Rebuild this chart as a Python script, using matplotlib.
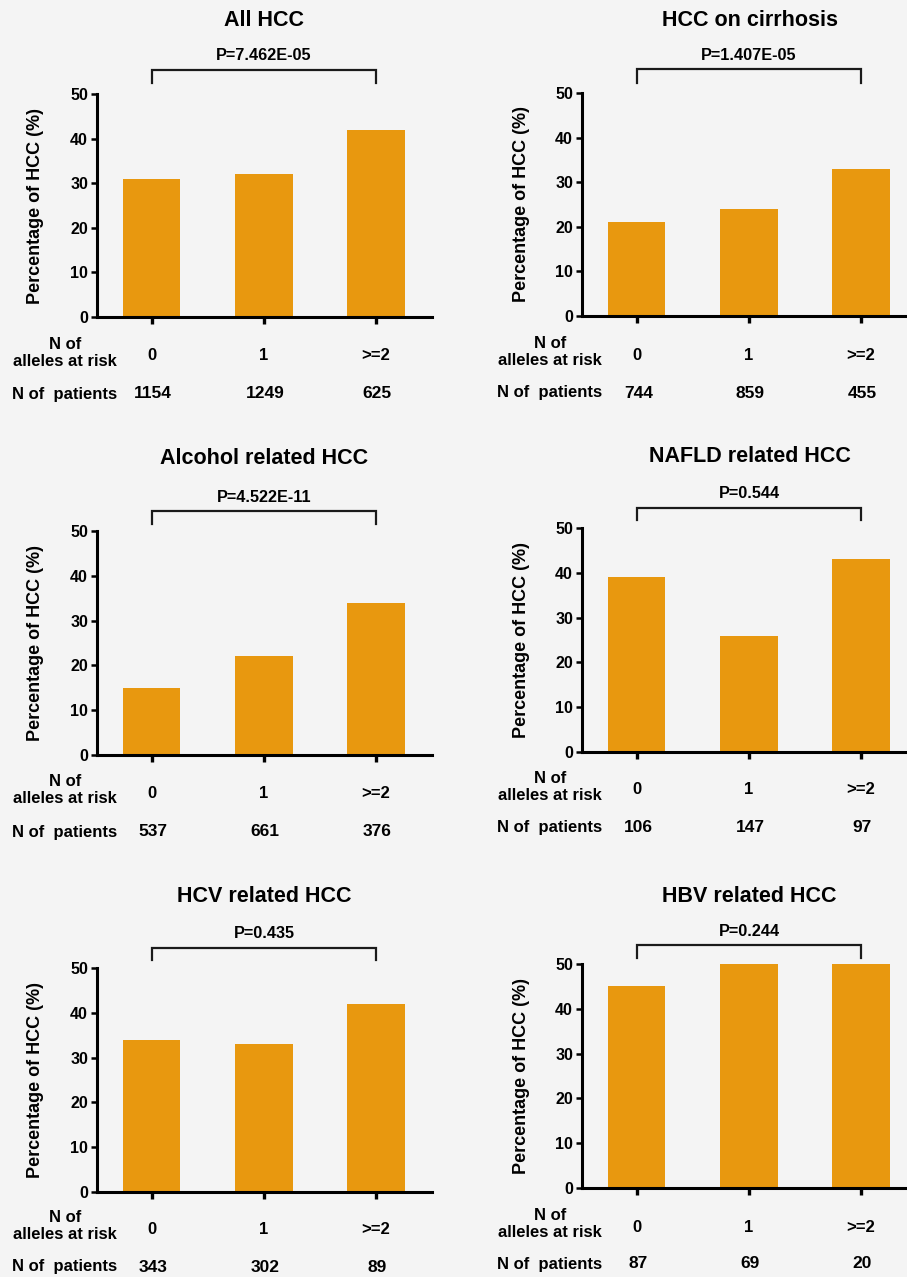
import matplotlib.pyplot as plt

plt.rcParams['font.family'] = ['Liberation Sans', 'DejaVu Sans']
plt.rcParams['font.weight'] = 'bold'

# data
titles = ['All HCC', 'HCC on cirrhosis', 'Alcohol related HCC',
          'NAFLD related HCC', 'HCV related HCC', 'HBV related HCC']
p_values = ['P=7.462E-05', 'P=1.407E-05', 'P=4.522E-11',
            'P=0.544', 'P=0.435', 'P=0.244']
allele_groups = ['0', '1', '>=2']

pct_all = [31, 32, 42]
pct_cirrhosis = [21, 24, 33]
pct_alcohol = [15, 22, 34]
pct_nafld = [39, 26, 43]
pct_hcv = [34, 33, 42]
pct_hbv = [45, 50, 50]

n_all = [1154, 1249, 625]
n_cirrhosis = [744, 859, 455]
n_alcohol = [537, 661, 376]
n_nafld = [106, 147, 97]
n_hcv = [343, 302, 89]
n_hbv = [87, 69, 20]

percents = [pct_all, pct_cirrhosis, pct_alcohol, pct_nafld, pct_hcv, pct_hbv]
patients = [n_all, n_cirrhosis, n_alcohol, n_nafld, n_hcv, n_hbv]

BAR = '#E8980F'
BG = '#F4F4F4'
W, H = 907, 1277
PT = 0.72  # points per pixel at dpi 100

# layout in pixels: axes left, top, bottom
boxes = [(97, 94, 317), (582, 93, 316), (97, 531, 755),
         (582, 528, 752), (97, 968, 1192), (582, 964, 1188)]
# offsets above axes top: title, p text, bracket top, bracket foot
above = [(74, 38, 24, 11), (72, 38, 24, 10), (72, 34, 20, 7),
         (71, 35, 20, 8), (71, 34, 20, 8), (67, 33, 19, 6)]
# offsets below axes bottom: group labels, patient counts
below = [(39, 77), (39, 77), (38, 77), (38, 76), (37, 75), (39, 76)]

xlo, xhi = -0.49, 2.5
ax_w = 335

fig = plt.figure(figsize=(W / 100, H / 100), dpi=100, facecolor=BG)

for k in range(6):
    left, top, bottom = boxes[k]
    ax = fig.add_axes([left / W, 1 - bottom / H, ax_w / W, (bottom - top) / H])
    ax.set_facecolor(BG)

    x = list(range(len(allele_groups)))
    ax.bar(x, percents[k], width=0.51, color=BAR)
    ax.set_xlim(xlo, xhi)
    ax.set_ylim(0, 50)
    ax.set_yticks([0, 10, 20, 30, 40, 50])
    ax.set_xticks(x)

    for s in ['top', 'right']:
        ax.spines[s].set_visible(False)
    for s in ['left', 'bottom']:
        ax.spines[s].set_linewidth(2.2)
    ax.tick_params(axis='y', length=4.5, width=1.8, labelsize=11.5, pad=2)
    ax.tick_params(axis='x', length=5, width=2.4, labelbottom=False)

    ax.text(-61 / ax_w, 0.5, 'Percentage of HCC (%)', rotation=90,
            transform=ax.transAxes, ha='center', va='center', fontsize=13)

    t_off, p_off, b_top, b_foot = above[k]
    ax.annotate(titles[k], xy=(0.5, 1), xycoords='axes fraction',
                xytext=(0, t_off * PT), textcoords='offset points',
                ha='center', va='center', fontsize=15.5)
    ax.annotate(p_values[k], xy=(1, 1), xycoords=ax.get_xaxis_transform(),
                xytext=(0, p_off * PT), textcoords='offset points',
                ha='center', va='center', fontsize=11.7)

    # bracket between first and last group
    ppu = (bottom - top) / 50
    y_top = 50 + b_top / ppu
    y_foot = 50 + b_foot / ppu
    ax.plot([0, 0, 2, 2], [y_foot, y_top, y_top, y_foot], color='#1a1a1a',
            lw=1.6, clip_on=False, solid_joinstyle='miter')

    g_off, n_off = below[k]
    for i, lab in enumerate(allele_groups):
        ax.annotate(lab, xy=(i, 0), xycoords=ax.get_xaxis_transform(),
                    xytext=(0, -g_off * PT), textcoords='offset points',
                    ha='center', va='center', fontsize=12)
        ax.annotate(str(patients[k][i]), xy=(i, 0),
                    xycoords=ax.get_xaxis_transform(),
                    xytext=(1, -n_off * PT), textcoords='offset points',
                    ha='center', va='center', fontsize=12.5)

    ax.annotate('N of\nalleles at risk', xy=(0, 0), xycoords='axes fraction',
                xytext=(-32 * PT, -(g_off - 3) * PT), textcoords='offset points',
                ha='center', va='center', fontsize=12, linespacing=1.2)
    ax.annotate('N of  patients', xy=(0, 0), xycoords='axes fraction',
                xytext=(-32 * PT, -n_off * PT), textcoords='offset points',
                ha='center', va='center', fontsize=12)

fig.savefig('out.png', dpi=100, facecolor=BG)
